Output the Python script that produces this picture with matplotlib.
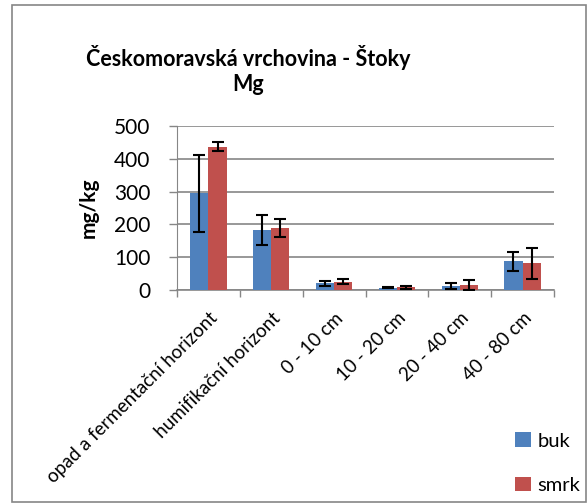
import numpy as np
import matplotlib
matplotlib.use('Agg')
import matplotlib.pyplot as plt
from matplotlib.patches import Rectangle

plt.rcParams['font.family'] = ['Lato', 'DejaVu Sans']

# Dati
kategorie = ['opad a fermentační horizont', 'humifikační horizont', '0 - 10 cm',
             '10 - 20 cm', '20 - 40 cm', '40 - 80 cm']
buk = [295, 183, 20, 7, 12, 87]
buk_err = [117, 46, 8, 2, 9, 28]
smrk = [437, 190, 25, 8, 16, 81]
smrk_err = [14, 27, 8, 5, 15, 46]

fig = plt.figure(figsize=(5.88, 5.04), dpi=100)
ax = fig.add_axes([177 / 588, 1 - 290 / 504, 377 / 588, 164 / 504])

x = np.arange(len(kategorie))
w = 0.29
grey = '#868686'
ax.bar(x - w / 2, buk, w, color='#4F81BD', label='buk', zorder=3)
ax.bar(x + w / 2, smrk, w, color='#C0504D', label='smrk', zorder=3)
ax.errorbar(x - w / 2, buk, yerr=buk_err, fmt='none', ecolor='black',
            elinewidth=1.5, capsize=4.5, capthick=1.5, zorder=4)
ax.errorbar(x + w / 2, smrk, yerr=smrk_err, fmt='none', ecolor='black',
            elinewidth=1.5, capsize=4.5, capthick=1.5, zorder=4)

ax.set_xlim(-0.5, len(kategorie) - 0.5)
ax.set_ylim(0, 500)
ax.set_yticks(range(0, 501, 100))
ax.tick_params(axis='y', labelsize=15, length=6, width=1, color=grey, pad=13)
ax.set_xticks(x)
ax.set_xticklabels(kategorie, rotation=45, ha='right', rotation_mode='anchor', fontsize=13.5)
ax.set_xticks(np.arange(-0.5, len(kategorie)), minor=True)
ax.tick_params(axis='x', which='major', length=0, pad=14)
ax.tick_params(axis='x', which='minor', length=5, width=1, color=grey)
ax.grid(axis='y', color=grey, linewidth=1.2, zorder=0)
for s in ['top', 'right']:
    ax.spines[s].set_visible(False)
ax.spines['left'].set_color(grey)
ax.spines['bottom'].set_color(grey)
ax.spines['bottom'].set_linewidth(1.2)

ax.set_ylabel('mg/kg', fontsize=15, fontweight='bold', labelpad=11)

fig.text(248 / 588, 1 - 70 / 504, 'Českomoravská vrchovina - Štoky\nMg', ha='center', va='center',
         fontsize=15.5, fontweight='bold', linespacing=1.25)

fig.legend(loc='upper left', bbox_to_anchor=(497 / 588, 1 - 414 / 504), frameon=False,
           fontsize=14.5, handlelength=0.8, handleheight=0.75, labelspacing=1.35, handletextpad=0.3)

fig.patches.append(Rectangle((12 / 588, 2 / 504), 574 / 588, 497 / 504, transform=fig.transFigure,
                             fill=False, edgecolor=grey, linewidth=1.2))

plt.savefig('out.png', dpi=100)
